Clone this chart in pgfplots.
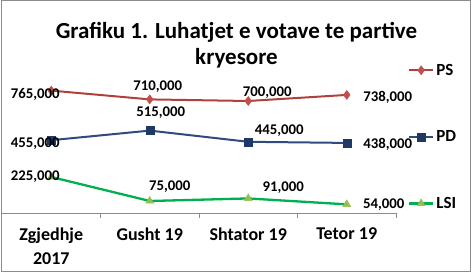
\documentclass[border=0pt]{standalone}
\usepackage{pgfplots}
\pgfplotsset{compat=1.18}
\usepackage{fontspec}
\setmainfont{Carlito}
\definecolor{psline}{HTML}{B0403E}
\definecolor{psmark}{HTML}{C0504D}
\definecolor{pdline}{HTML}{2F4A7D}
\definecolor{pdmark}{HTML}{1F3864}
\definecolor{lsiline}{HTML}{00B050}
\definecolor{lsimark}{HTML}{92C050}
\definecolor{border}{HTML}{8C8C8C}
\begin{document}
\begin{tikzpicture}
\useasboundingbox (0,0) rectangle (471bp,272bp);
\draw[border, line width=1bp] (1bp,1bp) rectangle (470bp,271bp);
\node[font=\bfseries\fontsize{23bp}{26bp}\selectfont, align=center, anchor=center] at (236.5bp,227bp) {Grafiku 1. Luhatjet e votave te partive\\kryesore};
\begin{axis}[
  at={(2bp,59bp)}, anchor=south west,
  scale only axis, width=394bp, height=144bp,
  xmin=-0.5, xmax=3.5, ymin=0, ymax=900000,
  axis line style={draw=none},
  axis x line*=bottom,
  hide y axis,
  xtick={0,1,2,3},
  xticklabels={{Zgjedhje\\2017},{Gusht 19},{Shtator 19},{Tetor 19}},
  xticklabel style={font=\bfseries\fontsize{18bp}{24bp}\selectfont, align=center, anchor=north, yshift=-11bp},
  major tick length=0pt,
  minor xtick={0.5,1.5,2.5,3.5},
  minor tick length=5bp,
  tick align=outside,
  minor tick style={border, line width=0.8bp},
  clip=false,
  /pgf/number format/.cd, fixed, precision=0, 1000 sep={,}, assume math mode=true,
  /pgfplots/.cd,
  nodes near coords,
  point meta=y,
  visualization depends on={value \thisrow{dx} \as \dx},
  visualization depends on={value \thisrow{dy} \as \dy},
  nodes near coords style={font=\bfseries\fontsize{14.8bp}{14.8bp}\selectfont, text=black, anchor=center, xshift=\dx bp, yshift=\dy bp},
  legend style={draw=none, fill=none, at={(1.03,1.05)}, anchor=north west, row sep=50bp,
    font=\bfseries\fontsize{17bp}{17bp}\selectfont, legend cell align=left,
    inner sep=0pt},
  legend image code/.code={\draw[mark repeat=2,mark phase=2] plot coordinates {(0bp,0bp) (12bp,0bp) (24bp,0bp)};},
]
\draw[border, line width=0.8bp] (axis cs:-0.5,0) -- (axis cs:3.5,0);
\addplot[psline, line width=2bp, mark=diamond*, mark size=4.5bp, mark options={fill=psmark, draw=psmark, line width=0.5bp}]
  table {
x y dx dy
0 765000 -16 -4
1 710000 8 13
2 700000 19 8
3 738000 41 -2
};
\addlegendentry{PS}
\addplot[pdline, line width=2bp, mark=square*, mark size=4bp, mark options={fill=pdmark, draw=pdmark, line width=0.5bp}]
  table {
x y dx dy
0 455000 -16 -3
1 515000 11 18
2 445000 31 11
3 438000 41 -1
};
\addlegendentry{PD}
\addplot[lsiline, line width=2.3bp, mark=triangle*, mark size=4.5bp, mark options={fill=lsimark, draw=lsimark, line width=0.5bp}]
  table {
x y dx dy
0 225000 -16 0
1 75000 20 14
2 91000 35 11
3 54000 37 0
};
\addlegendentry{LSI}
\end{axis}
\end{tikzpicture}
\end{document}
